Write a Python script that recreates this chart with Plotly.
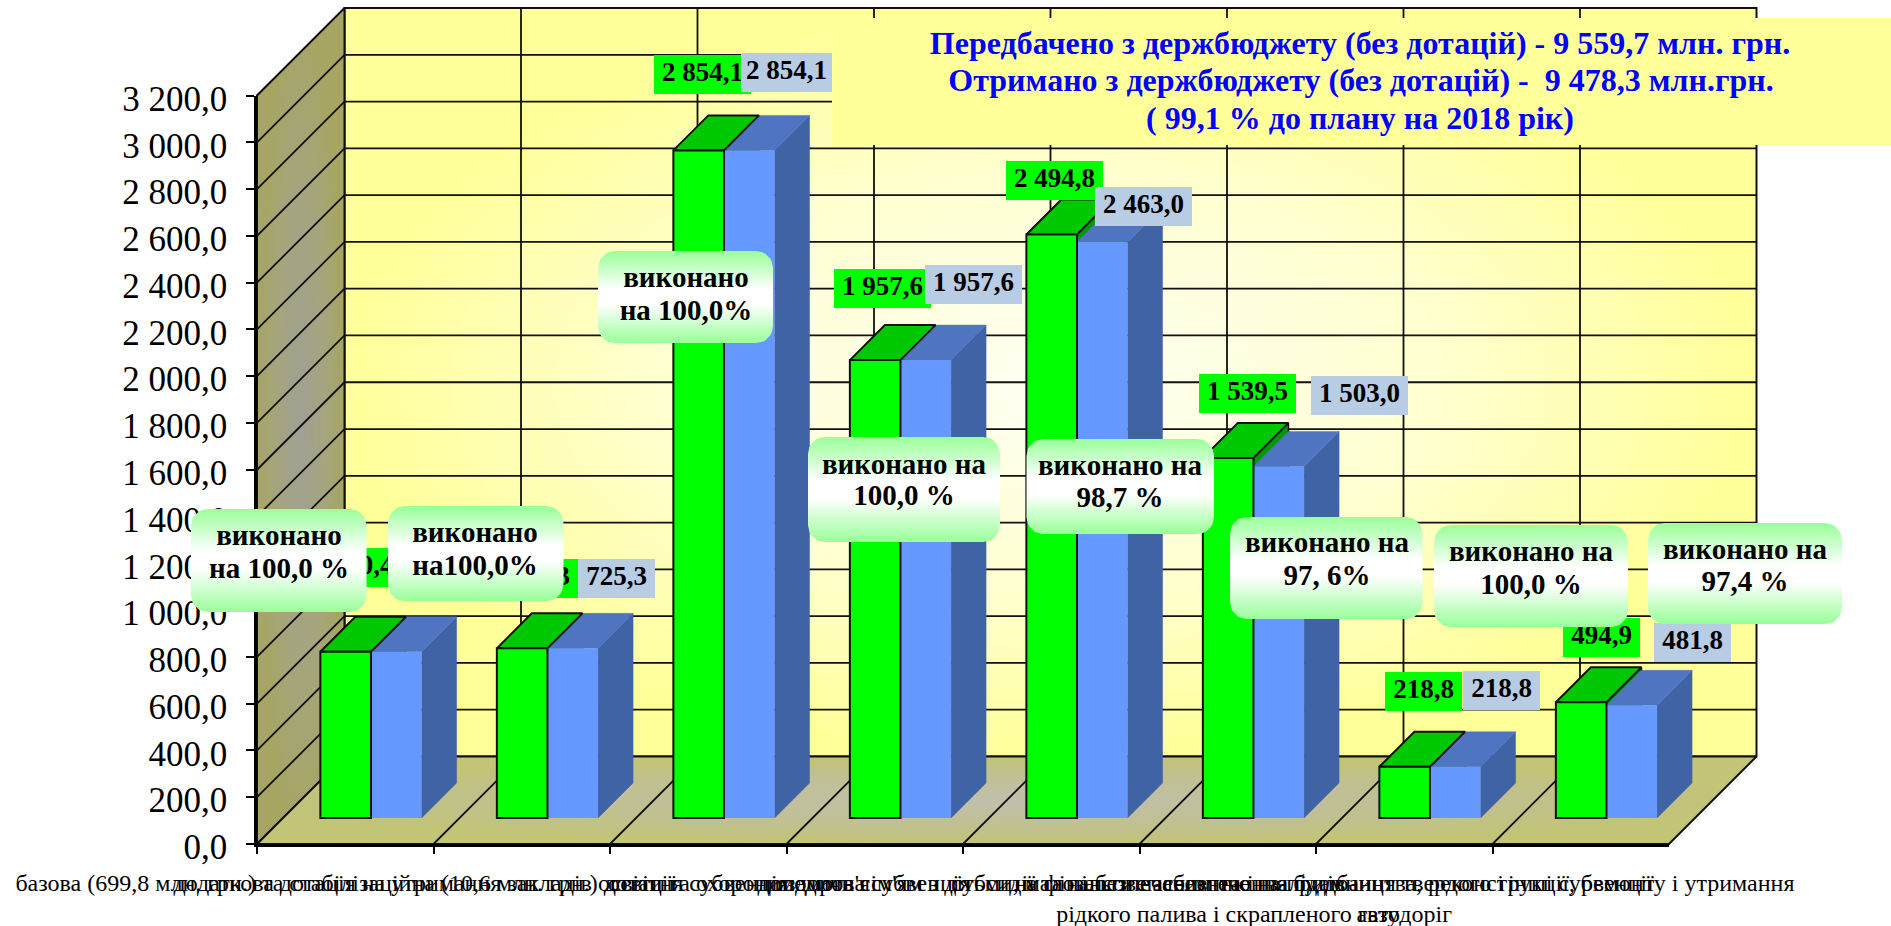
import math
import plotly.graph_objects as go

# ---------- data ----------
categories = [
    "базова (699,8 млн. грн.) та стабілізаційна (10,6 млн. грн.) дотації",
    "додаткова дотація на утримання закладів освіти та охорони здоров'я",
    "освітня субвенція",
    "медична субвенція",
    "допомога сім'ям з дітьми, малозабезпеченим та інвалідам",
    "субсидії та пільги населенню на придбання твердого і<br>рідкого палива і скрапленого газу",
    "на фінансове забезпечення будівництва, реконструкції, ремонту і утримання<br>автодоріг",
    "інші субвенції",
]
plan_values = [710.4, 725.3, 2854.1, 1957.6, 2494.8, 1539.5, 218.8, 494.9]
fact_values = [710.4, 725.3, 2854.1, 1957.6, 2463.0, 1503.0, 218.8, 481.8]
y_ticks = list(range(0, 3201, 200))
callout_lines = [
    ["виконано", "на 100,0 %"], ["виконано", "на100,0%"], ["виконано", "на 100,0%"],
    ["виконано на", "100,0 %"], ["виконано на", "98,7 %"], ["виконано на", "97, 6%"],
    ["виконано на", "100,0 %"], ["виконано на", "97,4 %"],
]
title_lines = [
    "Передбачено з держбюджету (без дотацій) - 9 559,7 млн. грн.",
    "Отримано з держбюджету (без дотацій) -  9 478,3 млн.грн.",
    "( 99,1 % до плану на 2018 рік)",
]

# ---------- layout constants ----------
W, H = 1891, 926
X_L, X_R, Y_0, Y_TOP = 257, 1669, 844, 95.5
CAT_PX = (X_R - X_L) / 8
VAL_PX = (Y_0 - Y_TOP) / 3200
WALL_DEPTH = 87.5
BAR_GAP = 26
BAR_DEPTH = 35
GREEN_OFF, BAR_W = -0.141, 0.2867
SERIF = "Liberation Serif"


def fmt(v, dec=1):
    s = f"{v:,.{dec}f}"
    return s.replace(",", " ").replace(".", ",")


def proj(x, v, depth):
    """Oblique projection: category/value position moved back by a pixel depth."""
    return x + depth / CAT_PX, v + depth / VAL_PX


def poly(points):
    xs, ys = zip(*points)
    return list(xs) + [xs[0]], list(ys) + [ys[0]]


fig = go.Figure()
BASE = dict(xaxis="x", yaxis="y", cliponaxis=False, hoverinfo="skip", showlegend=False)
TOP = dict(xaxis="x3", yaxis="y3", cliponaxis=False, hoverinfo="skip", showlegend=False)
X0, X1, VMAX = -0.5, 7.5, 3200


def grad(kind, scale):
    return dict(type=kind, colorscale=scale)


# walls
D = WALL_DEPTH
back = [proj(X0, 0, D), proj(X1, 0, D), proj(X1, VMAX, D), proj(X0, VMAX, D)]
side = [(X0, 0), proj(X0, 0, D), proj(X0, VMAX, D), (X0, VMAX)]
floor = [(X0, 0), (X1, 0), proj(X1, 0, D), proj(X0, 0, D)]
wall_styles = [
    (back, [[0, "#FFFFF4"], [0.55, "#FFFFD0"], [1, "#FFFF99"]]),
    (side, [[0, "#A0A094"], [0.6, "#A5A57C"], [1, "#A6A562"]]),
    (floor, [[0, "#C0C0AC"], [0.6, "#C0C090"], [1, "#C2C476"]]),
]
for pts, scale in wall_styles:
    xs, ys = poly(pts)
    fig.add_trace(go.Scatter(x=xs, y=ys, mode="lines", fill="toself",
                             fillgradient=grad("radial", scale),
                             line=dict(color="#111111", width=2), **BASE))

# gridlines on walls and floor
gx, gy = [], []
for t in y_ticks[1:-1]:
    a, b, c = (X0, t), proj(X0, t, D), proj(X1, t, D)
    gx += [a[0], b[0], c[0], None]
    gy += [a[1], b[1], c[1], None]
for i in range(1, 8):
    xb = X0 + i
    a, b, c = (xb, 0), proj(xb, 0, D), proj(xb, VMAX, D)
    gx += [a[0], b[0], c[0], None]
    gy += [a[1], b[1], c[1], None]
fig.add_trace(go.Scatter(x=gx, y=gy, mode="lines", line=dict(color="#111111", width=1.8), **BASE))

# bar tops and sides
v_base = BAR_GAP / VAL_PX
for i, (p, f) in enumerate(zip(plan_values, fact_values)):
    gl = i + GREEN_OFF
    gr = gl + BAR_W
    br = gr + BAR_W
    xs, ys = poly([(gr, v_base), proj(gr, v_base, BAR_DEPTH), proj(gr, v_base + p, BAR_DEPTH), (gr, v_base + p)])
    fig.add_trace(go.Scatter(x=xs, y=ys, mode="lines", fill="toself", fillcolor="#009A00",
                             line=dict(color="#111111", width=1.5), **BASE))
    xs, ys = poly([(br, v_base), proj(br, v_base, BAR_DEPTH), proj(br, v_base + f, BAR_DEPTH), (br, v_base + f)])
    fig.add_trace(go.Scatter(x=xs, y=ys, mode="lines", fill="toself", fillcolor="#4063A6",
                             line=dict(color="#4063A6", width=0.5), **BASE))
    xs, ys = poly([(gr, v_base + f), (br, v_base + f), proj(br, v_base + f, BAR_DEPTH), proj(gr, v_base + f, BAR_DEPTH)])
    fig.add_trace(go.Scatter(x=xs, y=ys, mode="lines", fill="toself", fillcolor="#4E74C2",
                             line=dict(color="#4E74C2", width=0.5), **BASE))
    xs, ys = poly([(gl, v_base + p), (gr, v_base + p), proj(gr, v_base + p, BAR_DEPTH), proj(gl, v_base + p, BAR_DEPTH)])
    fig.add_trace(go.Scatter(x=xs, y=ys, mode="lines", fill="toself", fillcolor="#00C800",
                             line=dict(color="#111111", width=2), **BASE))

# front faces: real bars
fig.add_trace(go.Bar(x=categories, y=fact_values, base=v_base, xaxis="x2", yaxis="y2",
                     width=BAR_W, offset=GREEN_OFF + BAR_W, name="Отримано",
                     marker=dict(color="#6699FF", line=dict(width=0)),
                     hoverinfo="skip", showlegend=False))
fig.add_trace(go.Bar(x=categories, y=plan_values, base=v_base, xaxis="x2", yaxis="y2",
                     width=BAR_W, offset=GREEN_OFF, name="Передбачено",
                     marker=dict(color="#00FF00", line=dict(color="#111111", width=2)),
                     hoverinfo="skip", showlegend=False))

# ---------- value labels (manually placed boxes, screen pixels) ----------
green_boxes = [(324, 548, 402, 587), (501, 559, 578, 598), (654, 55, 751, 94), (834, 269, 931, 308),
               (1006, 161, 1103, 200), (1199, 374, 1296, 413), (1385, 672, 1462, 711), (1563, 618, 1640, 657)]
blue_boxes = [(404, 546, 481, 585), (578, 559, 655, 598), (741, 53, 832, 92), (925, 265, 1022, 304),
              (1095, 187, 1192, 226), (1311, 376, 1408, 415), (1463, 671, 1540, 710), (1654, 623, 1731, 662)]


def rect(b):
    return [b[0], b[2], b[2], b[0], b[0]], [b[1], b[1], b[3], b[3], b[1]]


for boxes, vals, color in [(green_boxes, plan_values, "#00FF00"), (blue_boxes, fact_values, "#B8CCE4")]:
    for b in boxes:
        xs, ys = rect(b)
        fig.add_trace(go.Scatter(x=xs, y=ys, mode="lines", fill="toself", fillcolor=color,
                                 line=dict(width=0), **TOP))
    fig.add_trace(go.Scatter(x=[(b[0] + b[2]) / 2 for b in boxes], y=[(b[1] + b[3]) / 2 for b in boxes],
                             mode="text", text=[fmt(v) for v in vals], textposition="middle center",
                             textfont=dict(family=SERIF, size=27, color="black", weight="bold"), **TOP))

# ---------- title box ----------
title_box = (832, 18, 1891, 145)
xs, ys = rect(title_box)
fig.add_trace(go.Scatter(x=xs, y=ys, mode="lines", fill="toself", fillcolor="#FFFF99", line=dict(width=0), **TOP))
fig.add_trace(go.Scatter(x=[1360, 1361, 1360], y=[46, 83, 121], mode="text", text=title_lines,
                         textposition="middle center",
                         textfont=dict(family=SERIF, size=32, color="#0000FF", weight="bold"), **TOP))

# ---------- callouts ----------
callout_boxes = [(191, 509, 366.5, 612), (388, 506, 563.5, 601), (598, 251, 773, 343), (808, 437, 1000, 542),
                 (1026.5, 439, 1214, 534), (1230, 517, 1422.6, 619), (1434, 525, 1628, 627), (1648, 523, 1842, 624)]
callout_text_x = [279, 475, 686, 904, 1120, 1327, 1531, 1745]
callout_text_y = [(538, 571), (535, 568), (280, 313), (467, 498), (468, 500), (545, 578), (554, 587), (552, 584)]
CORNER = 17
CALL_SCALE = [[0, "#99FF99"], [0.42, "#FFFFFF"], [0.58, "#FFFFFF"], [1, "#99FF99"]]


def rounded(b, r=CORNER):
    x0, y0, x1, y1 = b
    centres = [(x1 - r, y0 + r, -90), (x1 - r, y1 - r, 0), (x0 + r, y1 - r, 90), (x0 + r, y0 + r, 180)]
    xs, ys = [], []
    for cx, cy, start in centres:
        for k in range(9):
            ang = math.radians(start + k * 90 / 8)
            xs.append(cx + r * math.cos(ang))
            ys.append(cy + r * math.sin(ang))
    return xs + [xs[0]], ys + [ys[0]]


for b in callout_boxes:
    xs, ys = rounded(b)
    fig.add_trace(go.Scatter(x=xs, y=ys, mode="lines", fill="toself",
                             fillgradient=grad("vertical", CALL_SCALE), line=dict(width=0), **TOP))
tx, ty, tt = [], [], []
for lines, x, yy in zip(callout_lines, callout_text_x, callout_text_y):
    for line, y in zip(lines, yy):
        tx.append(x)
        ty.append(y)
        tt.append(line)
fig.add_trace(go.Scatter(x=tx, y=ty, mode="text", text=tt, textposition="middle center",
                         textfont=dict(family=SERIF, size=29, color="black", weight="bold"), **TOP))

# ---------- axes ----------
x_dom = [X_L / W, X_R / W]
y_dom = [(H - Y_0) / H, (H - Y_TOP) / H]
fig.update_layout(
    width=W, height=H, margin=dict(l=0, r=0, t=0, b=0), autosize=False,
    paper_bgcolor="white", plot_bgcolor="rgba(0,0,0,0)", barmode="overlay", showlegend=False,
    font=dict(family=SERIF, color="black"),
    # full-page axes in category / value units, carrying the walls and bar tops
    xaxis=dict(domain=[0, 1], range=[X0 - X_L / CAT_PX, X1 + (W - X_R) / CAT_PX], visible=False,
               anchor="y", fixedrange=True),
    yaxis=dict(domain=[0, 1], range=[-(H - Y_0) / VAL_PX, Y_0 / VAL_PX], visible=False,
               anchor="x", fixedrange=True),
    # visible chart axes
    xaxis2=dict(domain=x_dom, range=[X0, X1], anchor="y2", type="category",
                categoryorder="array", categoryarray=categories,
                tickmode="linear", tick0=0, dtick=1, tickson="boundaries",
                ticks="outside", ticklen=7, tickwidth=2, tickcolor="black",
                showline=True, linecolor="black", linewidth=3, showgrid=False, zeroline=False,
                tickangle=0, tickfont=dict(family=SERIF, size=24, color="black"),
                ticklabelstandoff=15, automargin=False, fixedrange=True),
    yaxis2=dict(domain=y_dom, range=[0, VMAX], anchor="x2", tickmode="array", tickvals=y_ticks,
                ticktext=[fmt(t) for t in y_ticks], ticks="outside", ticklen=8, tickwidth=2,
                tickcolor="black", showline=True, linecolor="black", linewidth=2.5,
                showgrid=False, zeroline=False, tickfont=dict(family=SERIF, size=35, color="black"),
                ticklabelstandoff=12, ticklabelshift=3, automargin=False, fixedrange=True),
    # full-page pixel axes for the hand-placed labels and call-outs
    xaxis3=dict(domain=[0, 1], range=[0, W], anchor="y3", visible=False, fixedrange=True),
    yaxis3=dict(domain=[0, 1], range=[H, 0], anchor="x3", visible=False, fixedrange=True),
)

fig.write_html("out.html", config={"displayModeBar": False},
               post_script="document.body.style.margin='0';document.documentElement.style.overflow='hidden';")
